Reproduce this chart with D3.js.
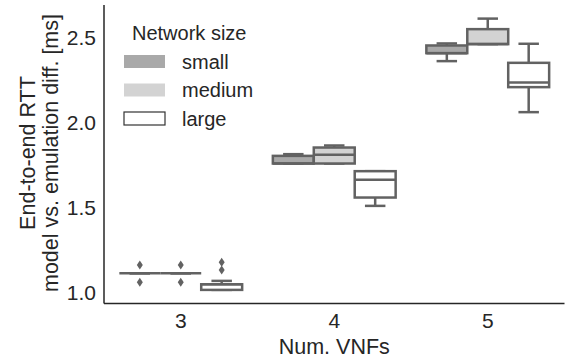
<!DOCTYPE html>
<html><head><meta charset="utf-8">
<script src="https://cdn.jsdelivr.net/npm/d3@7"></script>
<style>body{margin:0;background:#fff}svg{display:block}text{font-family:"Liberation Sans",Arial,sans-serif;fill:#262626}</style>
</head><body>
<svg id="c" width="567" height="360"></svg>
<script>
const categories = ["3","4","5"];
const sizes = ["small","medium","large"];
const sizeFills = ["#a9a9a9","#d3d3d3","#ffffff"];
const yTicks = [1.0,1.5,2.0,2.5];
// [whislo, q1, median, q3, whishi]
const boxStats = {
  "3": [[1.113,1.113,1.113,1.113,1.113],[1.113,1.113,1.113,1.113,1.113],[1.015,1.015,1.048,1.048,1.068]],
  "4": [[1.758,1.758,1.758,1.803,1.813],[1.758,1.758,1.809,1.852,1.864],[1.509,1.558,1.662,1.713,1.713]],
  "5": [[2.36,2.407,2.407,2.452,2.464],[2.46,2.46,2.46,2.548,2.61],[2.06,2.207,2.234,2.35,2.462]]
};
const fliers = {
  "3": [[1.162,1.06],[1.162,1.06],[1.132,1.178]],
  "4": [[],[],[]],
  "5": [[],[],[]]
};

const svg = d3.select("#c");
const L=104, R=564.5, T=5, B=303.5;
const x = d3.scaleBand().domain(categories).range([L,R]).padding(0);
const y = d3.scaleLinear().domain([0.935,2.69]).range([B,T]);
const hue = d3.scaleBand().domain(sizes).range([-0.4*x.bandwidth(),0.4*x.bandwidth()]);
const edge="#626262";

// axes
const ya = svg.append("g").attr("transform",`translate(${L},0)`).call(d3.axisLeft(y).tickValues(yTicks).tickFormat(d3.format(".1f")).tickSize(0).tickPadding(8));
ya.select(".domain").remove();
ya.selectAll("text").attr("font-size",21).style("fill","#262626");
const xa = svg.append("g").attr("transform",`translate(0,${B})`).call(d3.axisBottom(x).tickSize(0).tickPadding(10));
xa.select(".domain").remove();
xa.selectAll("text").attr("font-size",21).style("fill","#262626");
svg.append("line").attr("x1",L).attr("x2",L).attr("y1",T).attr("y2",B).attr("stroke","#262626").attr("stroke-width",1.5);
svg.append("line").attr("x1",L).attr("x2",R).attr("y1",B).attr("y2",B).attr("stroke","#262626").attr("stroke-width",1.5);

// boxes
categories.forEach(c=>{
  sizes.forEach((s,i)=>{
    const st = boxStats[c][i];
    const w = hue.bandwidth();
    const x0 = x(c)+x.bandwidth()/2+hue(s);
    const cx = x0+w/2;
    const g = svg.append("g");
    const lw=2.5;
    g.append("line").attr("x1",cx).attr("x2",cx).attr("y1",y(st[3])).attr("y2",y(st[4])).attr("stroke",edge).attr("stroke-width",lw);
    g.append("line").attr("x1",cx).attr("x2",cx).attr("y1",y(st[0])).attr("y2",y(st[1])).attr("stroke",edge).attr("stroke-width",lw);
    g.append("line").attr("x1",cx-w/4).attr("x2",cx+w/4).attr("y1",y(st[4])).attr("y2",y(st[4])).attr("stroke",edge).attr("stroke-width",lw);
    g.append("line").attr("x1",cx-w/4).attr("x2",cx+w/4).attr("y1",y(st[0])).attr("y2",y(st[0])).attr("stroke",edge).attr("stroke-width",lw);
    g.append("rect").attr("x",x0).attr("width",w).attr("y",y(st[3])).attr("height",Math.max(0,y(st[1])-y(st[3])))
      .attr("fill",sizeFills[i]).attr("stroke",edge).attr("stroke-width",lw);
    g.append("line").attr("x1",x0).attr("x2",x0+w).attr("y1",y(st[2])).attr("y2",y(st[2])).attr("stroke",edge).attr("stroke-width",lw);
    fliers[c][i].forEach(v=>{
      const py=y(v);
      g.append("path").attr("d",`M${cx},${py-4.5}L${cx+3},${py}L${cx},${py+4.5}L${cx-3},${py}Z`).attr("fill",edge);
    });
  });
});

// y label
const yl = svg.append("text").attr("transform","translate(35,153) rotate(-90)").attr("text-anchor","middle").attr("font-size",21.5);
yl.append("tspan").attr("x",0).attr("dy",0).text("End-to-end RTT");
yl.append("tspan").attr("x",0).attr("dy",23).text("model vs. emulation diff. [ms]");
svg.append("text").attr("x",(L+R)/2).attr("y",354).attr("text-anchor","middle").attr("font-size",21.5).text("Num. VNFs");

// legend
const lg = svg.append("g");
lg.append("text").attr("x",132).attr("y",40).attr("font-size",20).text("Network size");
sizes.forEach((s,i)=>{
  const yy = 55+i*28.5;
  lg.append("rect").attr("x",124).attr("y",yy).attr("width",41).attr("height",13)
    .attr("fill",sizeFills[i]).attr("stroke",i===2?"#333":"none").attr("stroke-width",1.2);
  lg.append("text").attr("x",182).attr("y",yy+6.5).attr("dy","0.35em").attr("font-size",20).text(s);
});
</script>
</body></html>
